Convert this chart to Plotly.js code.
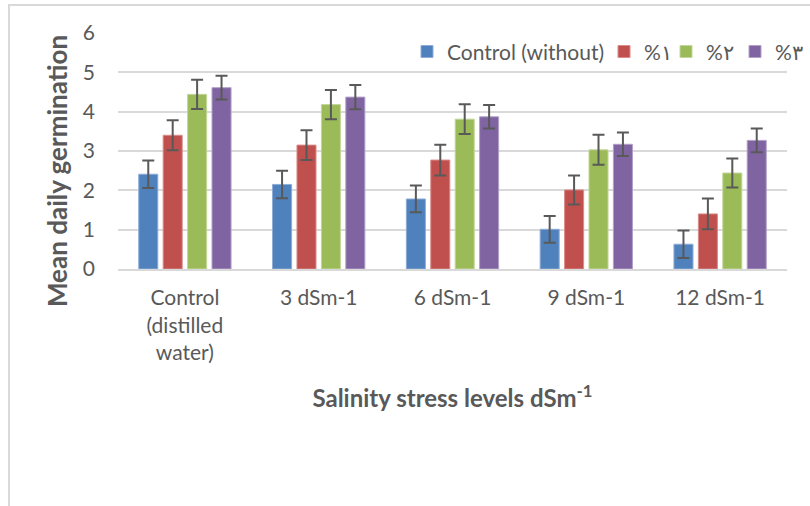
<!DOCTYPE html>
<html>
<head>
<meta charset="utf-8">
<script src="https://cdn.plot.ly/plotly-3.0.1.min.js"></script>
<style>
  html, body { margin: 0; padding: 0; background: #fff; overflow: hidden; }
  #wrap { position: relative; width: 810px; height: 506px; overflow: hidden; }
  #frame { position: absolute; left: 8px; top: 4px; width: 900px; height: 700px; border: 2px solid #d9d9d9; box-sizing: border-box; pointer-events: none; }
  #chart { position: absolute; left: 0; top: 0; width: 810px; height: 506px; }
</style>
</head>
<body>
<div id="wrap">
  <div id="frame"></div>
  <div id="chart"></div>
</div>
<script>
const categories = ["Control<br>(distilled<br>water)", "3 dSm-1", "6 dSm-1", "9 dSm-1", "12 dSm-1"];
const seriesNames = ["Control (without)", "%١", "%٢", "%٣"];
const controlWithout = [2.41, 2.15, 1.78, 1.01, 0.63];
const pct1 = [3.40, 3.15, 2.77, 2.01, 1.40];
const pct2 = [4.44, 4.18, 3.81, 3.03, 2.44];
const pct3 = [4.61, 4.37, 3.87, 3.17, 3.27];
const errControl = [0.35, 0.35, 0.34, 0.34, 0.35];
const errPct1 = [0.38, 0.38, 0.39, 0.37, 0.39];
const errPct2 = [0.37, 0.37, 0.38, 0.38, 0.37];
const errPct3 = [0.30, 0.31, 0.30, 0.30, 0.30];
const yTicks = [0, 1, 2, 3, 4, 5, 6];
const xTitle = "<b>Salinity stress levels dSm<sup>-1</sup></b>";
const yTitle = "<b>Mean daily germination</b>";

const colors = ["#4F81BD", "#C0504D", "#9BBB59", "#8064A2"];
const edgeColors = ["#8EACD6", "#D98C8A", "#C3D69B", "#B2A1C7"];
const legendWidths = [152, 17, 24, 30];
const values = [controlWithout, pct1, pct2, pct3];
const errors = [errControl, errPct1, errPct2, errPct3];

const FONT = "Lato, 'Open Sans', sans-serif";
const traces = values.map((v, i) => ({
  type: "bar",
  name: seriesNames[i],
  x: categories,
  y: v,
  legendwidth: legendWidths[i],
  marker: { color: colors[i], line: { color: edgeColors[i], width: 1 } },
  error_y: { type: "data", array: errors[i], visible: true, color: "#595959", thickness: 2, width: 6 },
  hoverinfo: "skip"
}));

const layout = {
  width: 810, height: 506,
  margin: { l: 118, r: 23, t: 33, b: 237, autoexpand: false },
  paper_bgcolor: "rgba(0,0,0,0)",
  plot_bgcolor: "rgba(0,0,0,0)",
  barmode: "group",
  bargap: 0.27,
  bargroupgap: 0.22,
  font: { family: FONT, color: "#595959", size: 21 },
  showlegend: true,
  legend: {
    orientation: "h",
    x: 0.432, xanchor: "left",
    y: 0.92, yanchor: "middle",
    font: { family: FONT, size: 21, color: "#595959" },
    bgcolor: "rgba(0,0,0,0)",
    itemwidth: 30,
    traceorder: "normal"
  },
  xaxis: {
    type: "category",
    range: [-0.5, categories.length - 0.5],
    tickfont: { family: FONT, size: 21, color: "#595959" },
    ticks: "", showgrid: false,
    showline: true, linecolor: "#d9d9d9", linewidth: 2,
    ticklabelstandoff: 9,
    automargin: false,
    title: { text: xTitle, font: { family: FONT, size: 24, color: "#595959" }, standoff: 27 }
  },
  yaxis: {
    range: [0, 6],
    tickvals: yTicks,
    ticktext: yTicks.map(String),
    tickfont: { family: FONT, size: 21, color: "#595959" },
    showgrid: true, gridcolor: "#d9d9d9", gridwidth: 2,
    zeroline: false, showline: false, ticks: "",
    ticklabelstandoff: 22,
    automargin: false
  },
  annotations: [{
    text: yTitle, textangle: -90, showarrow: false,
    xref: "paper", yref: "paper", x: -0.0912, y: 0.415,
    xanchor: "center", yanchor: "middle",
    font: { family: FONT, size: 26, color: "#595959" }
  }]
};

Plotly.newPlot("chart", traces, layout, { displayModeBar: false, staticPlot: true });
</script>
</body>
</html>
